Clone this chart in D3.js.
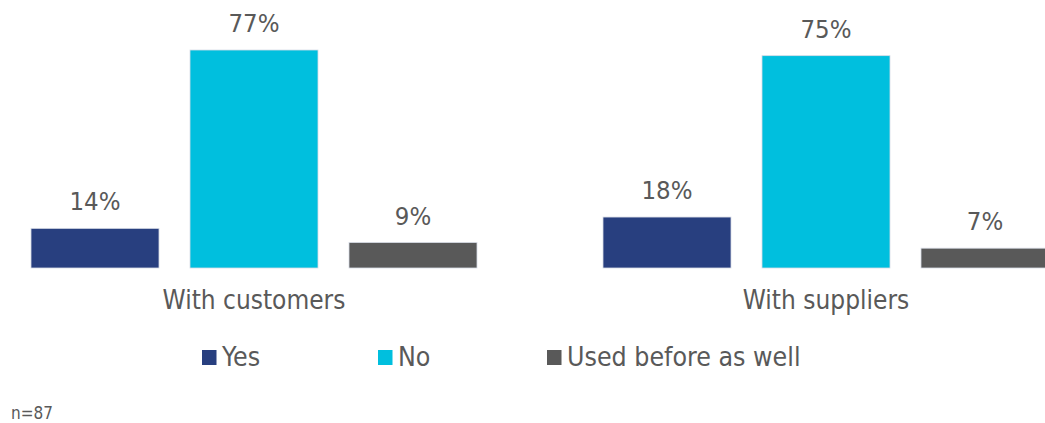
<!DOCTYPE html>
<html><head><meta charset="utf-8">
<script src="https://cdn.jsdelivr.net/npm/d3@7"></script>
<style>html,body{margin:0;padding:0;background:#fff;}svg{display:block;}</style>
</head><body>
<svg id="chart" width="1045" height="423"></svg>
<script>
const categories = ["With customers", "With suppliers"];
const seriesNames = ["Yes", "No", "Used before as well"];
const yesValues = [14, 18];
const noValues = [77, 75];
const usedValues = [9, 7];
const seriesColors = ["#283F7F", "#00BFDE", "#595959"];
const note = "n=87";

const svg = d3.select("#chart");
const font = "'DejaVu Sans Condensed', 'DejaVu Sans', sans-serif";
const textColor = "#595959";

const seriesValues = [yesValues, noValues, usedValues];
const data = categories.map((c, i) => ({ cat: c, vals: seriesNames.map((s, j) => ({ s, j, v: seriesValues[j][i] })) }));

const x0 = d3.scaleBand().domain(categories).range([-32, 1112]).paddingInner(0).paddingOuter(0);
const x1 = d3.scaleBand().domain(seriesNames).range([63, x0.bandwidth() - 63]).paddingInner(31 / 159).paddingOuter(0);
const y = d3.scaleLinear().domain([0, 77]).range([268, 50]);

const g = svg.selectAll("g.grp").data(data).join("g").attr("class", "grp")
  .attr("transform", d => `translate(${x0(d.cat)},0)`);

g.selectAll("rect").data(d => d.vals).join("rect")
  .attr("x", d => x1(d.s)).attr("width", x1.bandwidth())
  .attr("y", d => y(d.v)).attr("height", d => y(0) - y(d.v))
  .attr("fill", d => seriesColors[d.j])
  .attr("stroke", "#d8dce6").attr("stroke-width", 0.8);

g.selectAll("text.lbl").data(d => d.vals).join("text").attr("class", "lbl")
  .attr("x", d => x1(d.s) + x1.bandwidth() / 2).attr("y", d => y(d.v) - 18)
  .attr("text-anchor", "middle").attr("font-family", font).attr("font-size", 25.5)
  .attr("fill", textColor).text(d => d.v + "%");

// category axis labels
const xAxis = d3.axisBottom(x0).tickSize(0).tickPadding(0);
const ax = svg.append("g").attr("transform", "translate(0,268)").call(xAxis);
ax.select(".domain").remove();
ax.selectAll("text").attr("font-family", font).attr("font-size", 26).attr("fill", textColor)
  .attr("dy", null).attr("y", 41);

// legend
const legendX = [202, 378, 547];
const lg = svg.selectAll("g.leg").data(seriesNames).join("g").attr("class", "leg")
  .attr("transform", (d, i) => `translate(${legendX[i]},350)`);
lg.append("rect").attr("width", 14.5).attr("height", 15).attr("fill", (d, i) => seriesColors[i]);
lg.append("text").attr("x", 20).attr("y", 16.3).attr("font-family", font).attr("font-size", 26.5)
  .attr("fill", textColor).text(d => d);

svg.append("text").attr("x", 11).attr("y", 418.5).attr("font-family", font).attr("font-size", 17)
  .attr("fill", textColor).text(note);
</script>
</body></html>
